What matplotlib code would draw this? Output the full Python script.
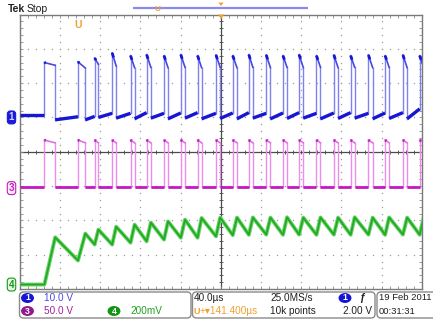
import numpy as np
import matplotlib
matplotlib.use("Agg")
import matplotlib.pyplot as plt
from matplotlib.patches import FancyBboxPatch, Ellipse, Polygon
from matplotlib.transforms import blended_transform_factory

W, H = 433, 320

time_per_div_us = 40.0
n_div_x, n_div_y = 10, 8

ch1_volts_per_div = 10.0
ch3_volts_per_div = 50.0
ch4_mV_per_div = 200.0
ch1_offset_div = 5.0
ch3_offset_div = 2.94
ch4_offset_div = 0.13

pulse_start_us = [24.6, 58.0, 74.6, 92.0, 110.3, 126.3, 143.6, 160.3, 177.0, 195.3, 212.0,
                  228.0, 245.3, 262.0, 278.0, 295.3, 312.6, 329.3, 347.0, 363.6, 381.3, 398.0]
pulse_width_us = [10.7, 7.3, 3.7, 4.0, 4.0, 4.2, 4.0, 4.2, 4.0, 4.2, 4.2,
                  4.0, 4.2, 4.0, 4.2, 4.0, 4.2, 4.0, 4.2, 4.0, 4.2, 4.0]

ch1_peak_V = [16.0, 16.2, 17.3, 18.8, 18.0, 18.3, 18.0, 18.3, 18.0, 18.2, 18.0,
              18.3, 18.2, 18.0, 18.3, 18.0, 18.2, 18.0, 18.2, 18.0, 18.2, 18.0]
ch1_end_V = [15.2, 14.4, 15.5, 15.0, 14.5, 14.6, 14.5, 14.6, 14.5, 14.6, 14.5,
             14.6, 14.5, 14.6, 14.5, 14.6, 14.5, 14.6, 14.5, 14.6, 14.5, 14.6]
ch1_gap_start_V = [0.6, -0.7, -0.7, 0.0, -0.2, -0.4, -0.2, -0.4, -0.2, -0.4, -0.3,
                   -0.4, -0.2, -0.4, -0.3, -0.2, -0.4, -0.3, -0.2, -0.4, -0.3, -0.4]
ch1_gap_end_V = [0.6, 0.2, 0.3, 1.2, 1.2, 1.4, 1.2, 1.3, 1.4, 1.2, 1.3,
                 1.4, 1.2, 1.3, 1.4, 1.2, 1.3, 1.4, 1.2, 1.3, 1.4, 2.5]

ch3_low_V = 2.2
ch3_tip_V = 70.0
ch3_top_V = 66.0

ch4_pre_mV = 0.0
ch4_trough_mV = [0, 140, 233, 233, 244, 252, 262, 273, 273, 281, 288,
                 290, 291, 290, 291, 290, 291, 290, 291, 290, 291, 290]
ch4_peak_mV = [275, 297, 320, 337, 349, 361, 368, 378, 388, 390, 390,
               391, 390, 392, 390, 391, 390, 392, 390, 391, 390, 392]

# ---------------- figure ----------------
FONT = ['Liberation Sans Narrow', 'Liberation Sans', 'DejaVu Sans']
fig = plt.figure(figsize=(W / 100, H / 100), dpi=100)
fig.patch.set_facecolor('white')

L, R, T, B = 19.7, 421.7, 14.5, 289.0
ax = fig.add_axes([L / W, 1 - B / H, (R - L) / W, (B - T) / H])
ax.set_xlim(0, time_per_div_us * n_div_x)
ax.set_ylim(0, n_div_y)
ax.set_facecolor('white')
for s in ax.spines.values():
    s.set_color('#7a7a7a')
    s.set_linewidth(1.0)
ax.set_xticks(np.arange(0, time_per_div_us * n_div_x + 0.1, time_per_div_us / 5))
ax.set_yticks(np.arange(0, n_div_y + 0.01, 0.2))
ax.tick_params(direction='in', length=2, width=0.6, color='#8a8a8a',
               top=True, right=True, labelbottom=False, labelleft=False)

# graticule dots
xmax = time_per_div_us * n_div_x
for k in range(1, n_div_x):
    if k == n_div_x // 2:
        continue
    yy = np.arange(0, n_div_y + 0.01, 0.2)
    ax.plot(np.full_like(yy, k * time_per_div_us), yy, ls='none', marker='s', ms=0.9,
            mew=0, color='#9c9c9c', zorder=1)
for k in range(1, n_div_y):
    if k == n_div_y // 2:
        continue
    xx = np.arange(0, xmax + 0.1, time_per_div_us / 5)
    ax.plot(xx, np.full_like(xx, k), ls='none', marker='s', ms=0.9, mew=0,
            color='#9c9c9c', zorder=1)
# centre cross with ticks
ax.axhline(n_div_y / 2, color='#4a4a4a', lw=0.9, zorder=1)
ax.axvline(xmax / 2, color='#4a4a4a', lw=0.9, zorder=1)
xx = np.arange(0, xmax + 0.1, time_per_div_us / 5)
ax.plot(xx, np.full_like(xx, n_div_y / 2), ls='none', marker='|', ms=3.5, mew=0.6,
        color='#4a4a4a', zorder=1)
yy = np.arange(0, n_div_y + 0.01, 0.2)
ax.plot(np.full_like(yy, xmax / 2), yy, ls='none', marker='_', ms=3.5, mew=0.6,
        color='#4a4a4a', zorder=1)

starts = np.array(pulse_start_us)
ends = starts + np.array(pulse_width_us)
gap_begin = np.concatenate([[0.0], ends[:-1]])
n = len(starts)


def d1(v):
    return ch1_offset_div + np.asarray(v) / ch1_volts_per_div


def d3(v):
    return ch3_offset_div + np.asarray(v) / ch3_volts_per_div


def d4(v):
    return ch4_offset_div + np.asarray(v) / ch4_mV_per_div


def pulse_trace(f, gs, ge, pk, en, dark, mid, light, lw_low, zo):
    for i in range(n):
        nxt = gs[i + 1] if i + 1 < n else gs[i]
        ax.plot([starts[i], starts[i]], [f(ge[i]), f(pk[i])], color=light, lw=1.0, zorder=zo)
        ax.plot([ends[i], ends[i]], [f(en[i]), f(nxt)], color=light, lw=1.0, zorder=zo)
        ax.plot([starts[i], ends[i]], [f(pk[i]), f(en[i])], color=mid, lw=1.2, zorder=zo + 0.1)
        tip_end = starts[i] + min(1.4, pulse_width_us[i] * 0.35)
        frac = (tip_end - starts[i]) / (ends[i] - starts[i])
        ax.plot([starts[i], tip_end], [f(pk[i]), f(pk[i] + (en[i] - pk[i]) * frac)],
                color=dark, lw=2.0, zorder=zo + 0.2, solid_capstyle='butt')
        ax.plot([gap_begin[i], starts[i]], [f(gs[i]), f(ge[i])], color=dark, lw=lw_low,
                zorder=zo + 0.2, solid_capstyle='butt')


# channel 1 (blue)
pulse_trace(d1, ch1_gap_start_V, ch1_gap_end_V, ch1_peak_V, ch1_end_V,
            '#1616d4', '#4848e2', '#8080ee', 2.4, 3)
# channel 3 (magenta)
c3_low = [ch3_low_V] * n
pulse_trace(d3, c3_low, c3_low, [ch3_tip_V] * n, [ch3_top_V] * n,
            '#c418c4', '#e070e0', '#ec8cec', 2.0, 3)
# channel 4 (green sawtooth)
g_t = [0.0]
g_v = [ch4_pre_mV]
for i in range(n):
    g_t += [starts[i], ends[i]]
    g_v += [ch4_trough_mV[i], ch4_peak_mV[i]]
ax.plot(g_t, d4(g_v), color='#6fd06f', lw=2.8, zorder=3)
ax.plot(g_t, d4(g_v), color='#1ead1e', lw=1.3, zorder=3.1)

# channel ground markers
bt = blended_transform_factory(ax.transAxes, ax.transData)
mx = (11.5 - L) / (R - L)
ax.text(mx, ch1_offset_div, '1', transform=bt, ha='center', va='center', fontsize=7,
        fontweight='bold', color='#d0d0ff', family=FONT, clip_on=False, zorder=6,
        bbox=dict(boxstyle='round,pad=0.15,rounding_size=0.3', fc='#1a1ad8', ec='#1a1ad8', lw=0.8))
ax.text(mx, ch3_offset_div, '3', transform=bt, ha='center', va='center', fontsize=7,
        fontweight='bold', color='#c020c0', family=FONT, clip_on=False, zorder=6,
        bbox=dict(boxstyle='round,pad=0.15,rounding_size=0.3', fc='#fbe8fb', ec='#c020c0', lw=0.8))
ax.text(mx, ch4_offset_div, '4', transform=bt, ha='center', va='center', fontsize=7,
        fontweight='bold', color='#189818', family=FONT, clip_on=False, zorder=6,
        bbox=dict(boxstyle='round,pad=0.15,rounding_size=0.3', fc='#e6f7e6', ec='#189818', lw=0.8))

# ---------------- overlay (screen furniture, pixel coords) ----------------
ov = fig.add_axes([0, 0, 1, 1], zorder=10)
ov.set_xlim(0, W)
ov.set_ylim(H, 0)
ov.axis('off')
ov.patch.set_alpha(0)

ov.text(8, 8.5, 'Tek', fontsize=7.5, fontweight='bold', family=FONT, va='center', ha='left', color='#202020')
ov.text(27, 8.5, 'Stop', fontsize=7.5, family=FONT, va='center', ha='left', color='#202020')
ov.plot([133, 308], [7.7, 7.7], color='#8a8aec', lw=1.6, solid_capstyle='butt')
ov.text(157.5, 9.5, 'U', fontsize=6, fontweight='bold', color='#f0a030', family=FONT, ha='center', va='center')
ov.add_patch(Polygon([[218.5, 2.5], [223.5, 2.5], [221, 6]], closed=True, fc='#f0a030', ec='none'))
ov.add_patch(Polygon([[218, 14.5], [224, 14.5], [221, 19]], closed=True, fc='#f0a030', ec='none'))
ov.text(78.5, 24.5, 'U', fontsize=7.5, fontweight='bold', color='#f0a030', family=FONT, ha='center', va='center')

# info boxes
for x0, x1 in [(19.5, 191.0), (192.5, 375.0), (377.0, 445.0)]:
    ov.add_patch(FancyBboxPatch((x0, 292.0), x1 - x0, 26.0,
                                boxstyle='round,pad=0,rounding_size=4',
                                fc='white', ec='#8a8a8a', lw=1.0))

r1, r2 = 298.0, 311.0
tk = dict(fontsize=7.2, family=FONT, va='center', ha='left')


def badge(x, y, label, color):
    ov.add_patch(Ellipse((x, y), 11.5, 8.5, fc=color, ec=color))
    ov.text(x, y, label, fontsize=6.3, fontweight='bold', color='white', family=FONT,
            ha='center', va='center')


badge(27.5, r1, '1', '#1414d8')
ov.text(43.5, r1, '10.0 V', color='#4848e4', **tk)
badge(27.5, r2, '3', '#8e1a8e')
ov.text(43.5, r2, '50.0 V', color='#a020a0', **tk)
badge(114.0, r2, '4', '#129412')
ov.text(130.0, r2, '200mV', color='#20a020', **tk)

ov.text(194.0, r1, '40.0µs', color='#202020', **tk)
ov.text(270.0, r1, '25.0MS/s', color='#202020', **tk)
badge(345.0, r1, '1', '#1414d8')
ov.text(359.0, r1, 'ƒ', fontsize=7.5, fontweight='bold', family=FONT, va='center', ha='left', color='#202020')
ov.text(193.5, r2, 'U', fontsize=6.5, fontweight='bold', color='#f0a030', family=FONT, va='center', ha='left')
ov.text(200.0, r2, '+▾141.400µs', color='#f0a030', **tk)
ov.text(270.0, r2, '10k points', color='#202020', **tk)
ov.text(343.0, r2, '2.00 V', color='#202020', **tk)
ov.text(379.0, r1, '19 Feb 2011', color='#202020', fontsize=6.8, family=FONT, va='center', ha='left')
ov.text(379.0, r2, '00:31:31', color='#202020', fontsize=6.8, family=FONT, va='center', ha='left')

fig.savefig('out.png', dpi=100, facecolor='white')
